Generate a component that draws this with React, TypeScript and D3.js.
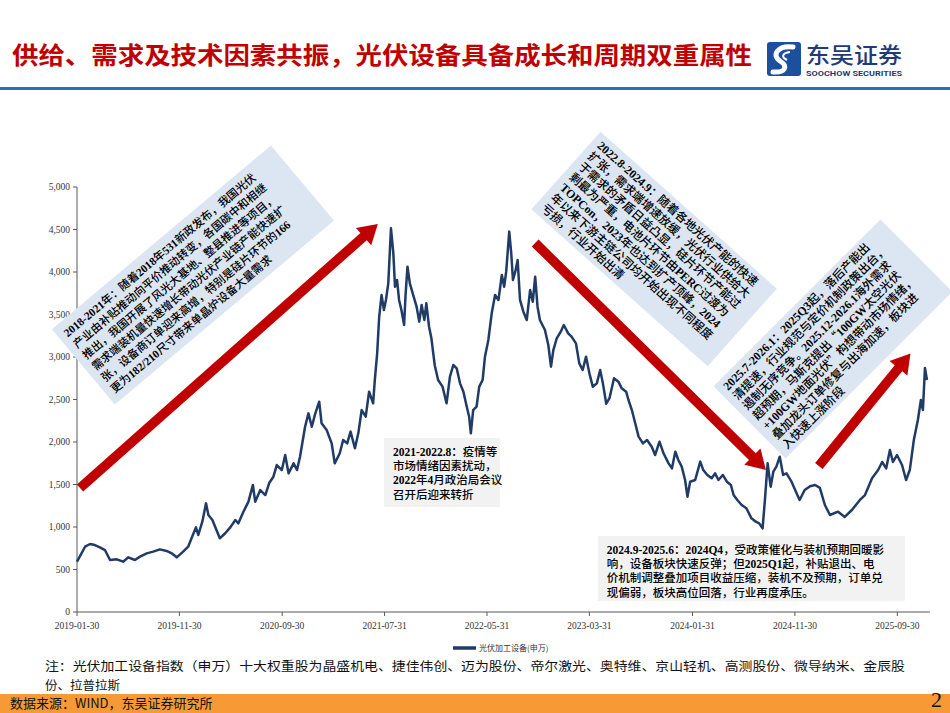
import React from "react";
import * as d3 from "d3";

const TITLE = "供给、需求及技术因素共振，光伏设备具备成长和周期双重属性";
const SERIES_NAME = "光伏加工设备(申万)";
const NOTE_LINES = [
  "注：光伏加工设备指数（申万）十大权重股为晶盛机电、捷佳伟创、迈为股份、帝尔激光、奥特维、京山轻机、高测股份、微导纳米、金辰股",
  "份、拉普拉斯",
];
const SOURCE = "数据来源：WIND，东吴证券研究所";
const PAGE_NO = "2";

const X_TICKS = ["2019-01-30", "2019-11-30", "2020-09-30", "2021-07-31", "2022-05-31", "2023-03-31", "2024-01-31", "2024-11-30", "2025-09-30"];
const Y_TICKS = [0, 500, 1000, 1500, 2000, 2500, 3000, 3500, 4000, 4500, 5000];

const DATES = [
  "2019-01-30","2019-02-23","2019-03-10","2019-03-24","2019-04-08","2019-04-23","2019-05-08","2019-05-28","2019-06-16","2019-07-01",
  "2019-07-21","2019-08-05","2019-08-25","2019-09-13","2019-10-03","2019-10-23","2019-11-07","2019-11-22","2019-12-11","2019-12-26",
  "2020-01-05","2020-01-18","2020-01-25","2020-02-06","2020-02-17","2020-02-24","2020-03-07","2020-03-19","2020-03-29","2020-04-14",
  "2020-04-29","2020-05-14","2020-05-23","2020-06-07","2020-06-22","2020-07-05","2020-07-12","2020-07-27","2020-08-11","2020-08-23",
  "2020-09-04","2020-09-14","2020-09-29","2020-10-09","2020-10-19","2020-11-03","2020-11-13","2020-11-22","2020-12-07","2020-12-17",
  "2020-12-27","2021-01-05","2021-01-18","2021-01-25","2021-02-09","2021-02-24","2021-03-05","2021-03-20","2021-03-30","2021-04-11",
  "2021-04-21","2021-05-04","2021-05-14","2021-05-24","2021-06-05","2021-06-15","2021-06-27","2021-07-02","2021-07-09","2021-07-15",
  "2021-07-22","2021-07-29","2021-08-04","2021-08-11","2021-08-19","2021-08-26","2021-08-31","2021-09-06","2021-09-12","2021-09-19",
  "2021-09-27","2021-10-01","2021-10-07","2021-10-14","2021-10-24","2021-11-03","2021-11-11","2021-11-18","2021-11-26","2021-12-02",
  "2021-12-10","2021-12-17","2021-12-27","2022-01-06","2022-01-19","2022-01-31","2022-02-10","2022-02-20","2022-03-02","2022-03-12",
  "2022-03-22","2022-04-01","2022-04-08","2022-04-13","2022-04-20","2022-04-30","2022-05-08","2022-05-18","2022-05-25","2022-06-04",
  "2022-06-14","2022-06-24","2022-07-04","2022-07-14","2022-07-21","2022-07-27","2022-08-05","2022-08-11","2022-08-16","2022-08-23",
  "2022-08-30","2022-09-06","2022-09-16","2022-09-26","2022-10-06","2022-10-14","2022-10-21","2022-10-28","2022-11-04","2022-11-19",
  "2022-11-29","2022-12-07","2022-12-14","2022-12-24","2023-01-05","2023-01-14","2023-01-27","2023-02-06","2023-02-19","2023-03-01",
  "2023-03-11","2023-03-21","2023-03-31","2023-04-10","2023-04-22","2023-05-02","2023-05-10","2023-05-20","2023-05-30","2023-06-12",
  "2023-06-25","2023-07-05","2023-07-18","2023-07-25","2023-08-04","2023-08-14","2023-08-24","2023-09-06","2023-09-18","2023-10-02",
  "2023-10-12","2023-10-25","2023-11-06","2023-11-21","2023-12-01","2023-12-11","2023-12-20","2023-12-30","2024-01-09","2024-01-16",
  "2024-01-24","2024-02-08","2024-02-23","2024-03-03","2024-03-15","2024-03-28","2024-04-07","2024-04-17","2024-04-30","2024-05-12",
  "2024-05-24","2024-06-01","2024-06-12","2024-06-25","2024-07-09","2024-07-24","2024-08-06","2024-08-16","2024-08-26","2024-09-02",
  "2024-09-10","2024-09-19","2024-09-27","2024-10-06","2024-10-16","2024-10-26","2024-11-05","2024-11-20","2024-12-05","2024-12-14",
  "2024-12-29","2025-01-14","2025-01-29","2025-02-12","2025-02-27","2025-03-14","2025-04-07","2025-04-27","2025-05-18","2025-06-11",
  "2025-06-26","2025-07-17","2025-08-04","2025-08-16","2025-08-28","2025-09-08","2025-09-17","2025-09-29","2025-10-14","2025-10-26",
  "2025-11-06","2025-11-18","2025-11-30","2025-12-09","2025-12-15","2025-12-21","2025-12-27",
];

const VALUES = [
  592, 768, 800, 788, 761, 729, 612, 620, 592, 643,
  612, 651, 690, 710, 737, 718, 690, 643, 710, 768,
  867, 996, 906, 1062, 1278, 1141, 1082, 965, 867, 926,
  996, 1082, 1043, 1180, 1298, 1494, 1298, 1435, 1376, 1521,
  1592, 1729, 1670, 1847, 1631, 1749, 1670, 1827, 2180, 2337,
  2180, 2318, 2474, 2220, 2141, 1984, 1749, 1867, 2024, 1984,
  2122, 1926, 2102, 2376, 2298, 2592, 2455, 2729, 3043, 3474,
  3729, 3553, 3671, 3867, 4514, 4220, 3827, 3906, 3671, 3553,
  3376, 3710, 4063, 3867, 3729, 3592, 3416, 3612, 3435, 3631,
  3357, 3220, 2900, 2729, 2651, 2455, 2768, 2906, 2867, 2690,
  2592, 2415, 2298, 2102, 2376, 2415, 2651, 2729, 3004, 3200,
  3514, 3729, 3671, 3965, 3827, 4004, 4475, 4220, 3906, 4004,
  4141, 3671, 3533, 3435, 3788, 3651, 3945, 3592, 3435, 3318,
  3141, 2886, 3082, 3220, 3298, 3376, 3278, 3239, 3161, 2925,
  2847, 3004, 2808, 2651, 2690, 2847, 2690, 2450, 2520, 2749,
  2710, 2631, 2592, 2494, 2376, 2220, 2063, 1984, 2024, 1945,
  1847, 2004, 1867, 1749, 1690, 1886, 1788, 1710, 1553, 1357,
  1533, 1553, 1769, 1670, 1612, 1573, 1631, 1553, 1612, 1533,
  1494, 1376, 1318, 1259, 1220, 1102, 1062, 1043, 984, 1318,
  1749, 1474, 1651, 1710, 1827, 1612, 1631, 1533, 1396, 1318,
  1435, 1480, 1494, 1460, 1259, 1141, 1180, 1118, 1200, 1318,
  1376, 1573, 1670, 1765, 1690, 1906, 1765, 1847, 1730, 1553,
  1670, 2024, 2259, 2494, 2376, 2870, 2729,
];

// Rotated commentary boxes, anchored at (date, value) of their centres
const BOX1_LINES = [
  "2018-2021年：随着2018年531新政发布，我国光伏",
  "产业由补贴推动向平价推动转变，各国碳中和相继",
  "推出，我国开展了风光大基地、整县推进等项目，",
  "需求端装机量快速增长带动光伏产业链产能快速扩",
  "张，设备商订单迎来高增，特别是硅片环节的166",
  "更为182/210尺寸带来单晶炉设备大量需求",
];
const BOX2_LINES = [
  "2022.8-2024.9：随着各地光伏产能的快速",
  "扩张，需求端增速放缓，光伏行业供给大",
  "于需求的矛盾日益凸显，硅片环节产能过",
  "剩最为严重，电池片环节由PERC过渡为",
  "TOPCon，2023年也达到扩产顶峰，2024",
  "年以来下游主链公司均开始出现不同程度",
  "亏损，行业开始出清",
];
const BOX3_LINES = [
  "2025.7-2026.1：2025Q3起，落后产能出",
  "清提速，行业规范与定价机制政策出台，",
  "遏制无序竞争。2025.12-2026.1海外需求",
  "超预期，马斯克提出“100GW太空光伏",
  "+100GW地面光伏”构想带动市场情绪，",
  "叠加龙头订单修复与出海加速，板块进",
  "入快速上涨阶段",
];
const BOX4_LINES = [
  "2021-2022.8：疫情等",
  "市场情绪因素扰动，",
  "2022年4月政治局会议",
  "召开后迎来转折",
];
const BOX5_LINES = [
  "2024.9-2025.6：2024Q4，受政策催化与装机预期回暖影",
  "响，设备板块快速反弹；但2025Q1起，补贴退出、电",
  "价机制调整叠加项目收益压缩，装机不及预期，订单兑",
  "现偏弱，板块高位回落，行业再度承压。",
];

const ROTATED_BOXES = [
  { at: ["2020-01-09", 3965], w: 286, h: 98, angle: -40, fs: 11.3, lh: 14.6, lines: BOX1_LINES },
  { at: ["2023-10-09", 4271], w: 236, h: 104, angle: 41.7, fs: 11.8, lh: 14, lines: BOX2_LINES },
  { at: ["2025-03-23", 3212], w: 236, h: 102, angle: -45, fs: 11.8, lh: 13.9, lines: BOX3_LINES },
];
const FLAT_BOXES = [
  { at: ["2021-07-29", 2047], w: 116, h: 69, lines: BOX4_LINES },
  { at: ["2023-04-25", 894], w: 307, h: 65, lines: BOX5_LINES },
];
const ARROWS = [
  { from: ["2019-02-08", 1459], to: ["2021-07-11", 4565] },
  { from: ["2022-10-21", 4341], to: ["2024-09-05", 1671] },
  { from: ["2025-02-09", 1718], to: ["2025-11-08", 3040] },
];

const parse = d3.utcParse("%Y-%m-%d");
const SERIF = "'Liberation Serif','Times New Roman','Noto Sans CJK SC',serif";
const CJK = "'Noto Sans CJK SC','Liberation Serif',sans-serif";
const NAVY = "#1F3B66";
const RED = "#C00000";

// split a mixed line into latin (bold serif) and CJK runs
function Runs({ s }: { s: string }) {
  const parts = s.match(/[\x00-\x7F]+|[^\x00-\x7F]+/g) || [];
  return (
    <>
      {parts.map((p, k) =>
        /^[\x00-\x7F]/.test(p) ? (
          <tspan key={k} fontFamily={SERIF} fontWeight={700}>{p}</tspan>
        ) : (
          <tspan key={k} fontFamily={CJK} fontWeight={500}>{p}</tspan>
        )
      )}
    </>
  );
}

export default function App() {
  const W = 950, H = 713;
  const x = d3.scaleUtc().domain([parse("2019-01-30")!, parse("2026-01-05")!]).range([77, 930]);
  const y = d3.scaleLinear().domain([0, 5000]).range([612, 187]);
  const data = DATES.map((d, i) => ({ d: parse(d)!, v: VALUES[i] }));
  const line = d3.line<{ d: Date; v: number }>().x((p) => x(p.d)).y((p) => y(p.v)).curve(d3.curveLinear);
  const fmt = d3.format(",");

  const arrowPoly = (a: { from: any[]; to: any[] }) => {
    const x0 = x(parse(a.from[0])!), y0 = y(a.from[1]);
    const x1 = x(parse(a.to[0])!), y1 = y(a.to[1]);
    const L = Math.hypot(x1 - x0, y1 - y0);
    const ux = (x1 - x0) / L, uy = (y1 - y0) / L;
    const nx = -uy, ny = ux;
    const s = 4.8, hw = 11.5, hl = 19;
    const bx = x1 - ux * hl, by = y1 - uy * hl;
    const pts = [
      [x0 + nx * s, y0 + ny * s],
      [bx + nx * s, by + ny * s],
      [bx + nx * hw, by + ny * hw],
      [x1, y1],
      [bx - nx * hw, by - ny * hw],
      [bx - nx * s, by - ny * s],
      [x0 - nx * s, y0 - ny * s],
    ];
    return pts.map((p) => p.join(",")).join(" ");
  };

  return (
    <svg width={W} height={H} style={{ position: "absolute", left: 0, top: 0, background: "#fff" }}>
      {/* header */}
      <text x={12} y={64} fontFamily={CJK} fontWeight={700} fontSize={24} fill={RED} textLength={740} lengthAdjust="spacingAndGlyphs">
        {TITLE}
      </text>
      <g>
        <rect x={767} y={42} width={34} height={34} rx={3} fill="#1C4F9C" />
        <path d="M 793 47 C 778 45, 771 55, 780 61 C 788 66, 786 73, 773 72" fill="none" stroke="#fff" strokeWidth={5} strokeLinecap="round" />
        <path d="M 790 52 C 782 53, 781 57, 787 60" fill="none" stroke="#fff" strokeWidth={2} />
        <text x={806} y={63} fontFamily={CJK} fontWeight={500} fontSize={22} fill="#1F3A78" textLength={96} lengthAdjust="spacingAndGlyphs">东吴证券</text>
        <text x={806} y={76} fontFamily="Roboto, sans-serif" fontWeight={700} fontSize={7.5} fill="#1F3A78" textLength={96} lengthAdjust="spacingAndGlyphs">SOOCHOW SECURITIES</text>
      </g>
      <rect x={0} y={87} width={W} height={3} fill="#2472B8" />

      {/* axes */}
      <line x1={77} x2={77} y1={187} y2={612} stroke="#595959" strokeWidth={1} />
      {Y_TICKS.map((t) => (
        <g key={"y" + t}>
          <line x1={73} x2={77} y1={y(t)} y2={y(t)} stroke="#595959" />
          <text x={70} y={y(t)} dy="0.33em" textAnchor="end" fontFamily={SERIF} fontSize={9.5} fill="#333">{fmt(t)}</text>
        </g>
      ))}
      <line x1={77} x2={930} y1={612} y2={612} stroke="#595959" strokeWidth={1} />
      {X_TICKS.map((t) => {
        const px = x(parse(t)!);
        return (
          <g key={"x" + t}>
            <line x1={px} x2={px} y1={612} y2={616} stroke="#595959" />
            <text x={px} y={629} textAnchor="middle" fontFamily={SERIF} fontSize={9.5} fill="#333">{t}</text>
          </g>
        );
      })}

      {/* flat annotation boxes */}
      {FLAT_BOXES.map((b, i) => {
        const bx = x(parse(b.at[0] as string)!), by = y(b.at[1] as number);
        return (
          <g key={"fb" + i}>
            <rect x={bx} y={by} width={b.w} height={b.h} fill="#F2F2F2" />
            {b.lines.map((l, j) => (
              <text key={j} x={bx + 9} y={by + 14 + j * 14.2} dy="0.35em" fontSize={11.5} fill="#000"><Runs s={l} /></text>
            ))}
          </g>
        );
      })}

      {/* series line */}
      <path d={line(data) || ""} fill="none" stroke={NAVY} strokeWidth={2.5} strokeLinejoin="round" />

      {/* arrows */}
      {ARROWS.map((a, i) => (
        <polygon key={"a" + i} points={arrowPoly(a)} fill={RED} />
      ))}

      {/* rotated annotation boxes */}
      {ROTATED_BOXES.map((b, i) => {
        const cx = x(parse(b.at[0] as string)!), cy = y(b.at[1] as number);
        const n = b.lines.length;
        return (
          <g key={"rb" + i} transform={`translate(${cx},${cy}) rotate(${b.angle})`}>
            <rect x={-b.w / 2} y={-b.h / 2} width={b.w} height={b.h} fill="#DCE6F2" />
            {b.lines.map((l, j) => (
              <text key={j} x={-b.w / 2 + 7} y={(j - (n - 1) / 2) * b.lh} dy="0.35em" fontSize={b.fs} fill="#000"><Runs s={l} /></text>
            ))}
          </g>
        );
      })}

      {/* legend */}
      <line x1={453} x2={476} y1={648} y2={648} stroke={NAVY} strokeWidth={3.5} />
      <text x={479} y={651} fontFamily={CJK} fontSize={8} fill="#333">{SERIES_NAME}</text>

      {/* notes & footer */}
      <text x={45} y={671} fontFamily={CJK} fontSize={12.5} fill="#111" textLength={860} lengthAdjust="spacingAndGlyphs">{NOTE_LINES[0]}</text>
      <text x={45} y={690} fontFamily={CJK} fontSize={12.5} fill="#111">{NOTE_LINES[1]}</text>
      <rect x={0} y={694} width={W} height={19} fill="#F79A36" />
      <text x={10} y={708} fontFamily={CJK} fontSize={13} fill="#111">{SOURCE}</text>
      <text x={942} y={707} textAnchor="end" fontFamily={SERIF} fontSize={22} fill="#111">{PAGE_NO}</text>
    </svg>
  );
}
